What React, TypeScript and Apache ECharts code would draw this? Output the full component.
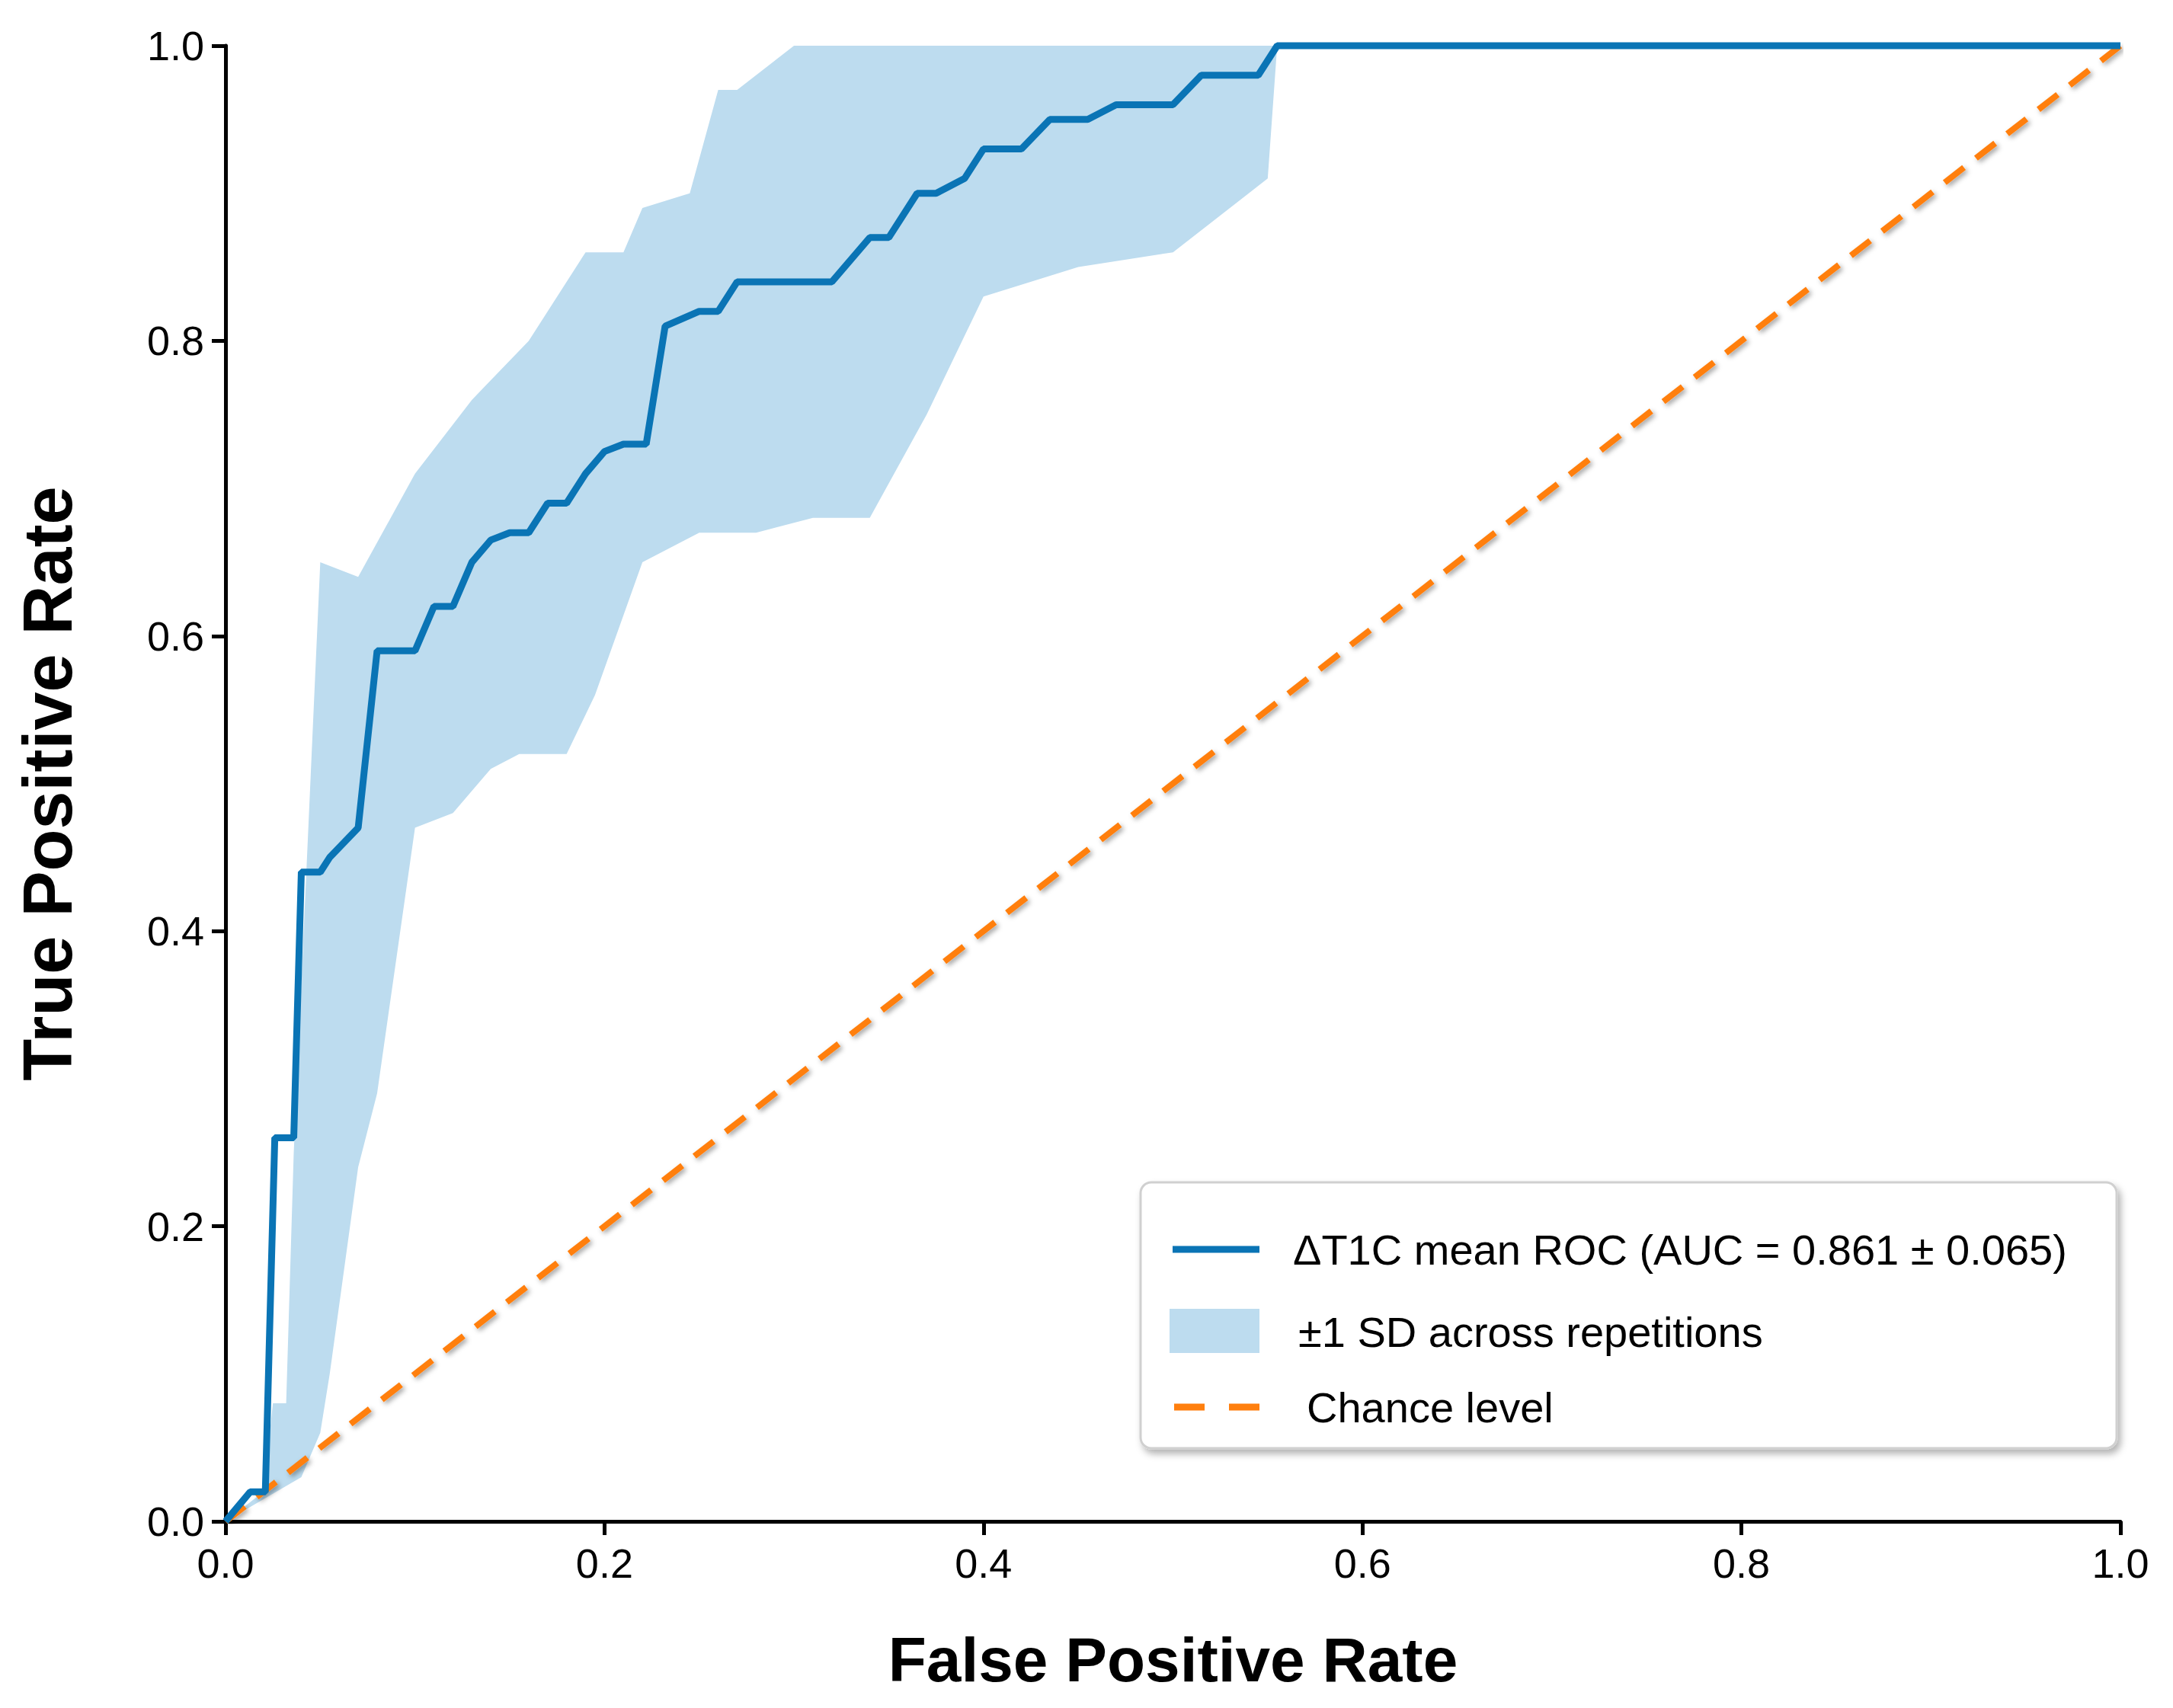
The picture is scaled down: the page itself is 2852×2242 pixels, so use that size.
import React, { useEffect, useRef } from "react";
import * as echarts from "echarts";

// mean ROC curve [fpr, tpr]
const meanRoc: number[][] = [
  [0, 0], [0.013, 0.02], [0.021, 0.02], [0.026, 0.26], [0.036, 0.26], [0.04, 0.44],
  [0.05, 0.44], [0.055, 0.45], [0.07, 0.47], [0.08, 0.59], [0.1, 0.59], [0.11, 0.62],
  [0.12, 0.62], [0.13, 0.65], [0.14, 0.665], [0.15, 0.67], [0.16, 0.67], [0.17, 0.69],
  [0.18, 0.69], [0.19, 0.71], [0.2, 0.725], [0.21, 0.73], [0.222, 0.73], [0.232, 0.81],
  [0.25, 0.82], [0.26, 0.82], [0.27, 0.84], [0.32, 0.84], [0.34, 0.87], [0.35, 0.87],
  [0.365, 0.9], [0.375, 0.9], [0.39, 0.91], [0.4, 0.93], [0.42, 0.93], [0.435, 0.95],
  [0.455, 0.95], [0.47, 0.96], [0.5, 0.96], [0.515, 0.98], [0.545, 0.98], [0.555, 1.0],
  [1, 1],
];

// ±1 SD band, upper and lower bounds
const bandUpper: number[][] = [
  [0, 0], [0.02, 0.02], [0.025, 0.08], [0.032, 0.08], [0.036, 0.25], [0.05, 0.65],
  [0.07, 0.64], [0.1, 0.71], [0.13, 0.76], [0.16, 0.8], [0.19, 0.86], [0.21, 0.86],
  [0.22, 0.89], [0.245, 0.9], [0.26, 0.97], [0.27, 0.97], [0.3, 1.0], [0.555, 1.0],
];
const bandLower: number[][] = [
  [0, 0], [0.04, 0.03], [0.05, 0.06], [0.055, 0.1], [0.07, 0.24], [0.08, 0.29],
  [0.1, 0.47], [0.12, 0.48], [0.14, 0.51], [0.155, 0.52], [0.18, 0.52], [0.195, 0.56],
  [0.22, 0.65], [0.25, 0.67], [0.28, 0.67], [0.31, 0.68], [0.34, 0.68], [0.37, 0.75],
  [0.4, 0.83], [0.45, 0.85], [0.5, 0.86], [0.55, 0.91], [0.555, 1.0],
];

const chance: number[][] = [[0, 0], [1, 1]];

const legendLabels = [
  "ΔT1C mean ROC (AUC = 0.861 ± 0.065)",
  "±1 SD across repetitions",
  "Chance level",
];

const BLUE = "#0a74b5";
const BAND = "#bddcef";
const ORANGE = "#ff7f0e";
const FONT = "Liberation Sans, Arial, sans-serif";

export default function App() {
  const ref = useRef<HTMLDivElement>(null);

  useEffect(() => {
    const chart = echarts.init(ref.current, null, { renderer: "svg" });
    const bandPoly = [...bandUpper, ...bandLower.slice().reverse()];
    const lx = 1497, ly = 1552;
    const tickLabel = {
      fontSize: 54, color: "#000", margin: 28, fontFamily: FONT,
      formatter: (v: number) => v.toFixed(1),
    };
    chart.setOption({
      animation: false,
      backgroundColor: "#fff",
      grid: { left: 296, top: 60, width: 2487, height: 1937 },
      xAxis: {
        type: "value", min: 0, max: 1, interval: 0.2,
        name: "False Positive Rate", nameLocation: "middle", nameGap: 140,
        nameTextStyle: { fontSize: 82, fontWeight: "bold", color: "#000", fontFamily: FONT },
        axisLine: { lineStyle: { color: "#000", width: 5 } },
        axisTick: { length: 18, lineStyle: { color: "#000", width: 5 } },
        axisLabel: tickLabel,
        splitLine: { show: false },
      },
      yAxis: {
        type: "value", min: 0, max: 1, interval: 0.2,
        name: "True Positive Rate", nameLocation: "middle", nameGap: 188,
        nameTextStyle: { fontSize: 90, fontWeight: "bold", color: "#000", fontFamily: FONT },
        axisLine: { show: true, lineStyle: { color: "#000", width: 5 } },
        axisTick: { show: true, length: 18, lineStyle: { color: "#000", width: 5 } },
        axisLabel: tickLabel,
        splitLine: { show: false },
      },
      series: [
        {
          type: "custom",
          data: [0],
          clip: true,
          renderItem: (_p: any, api: any) => ({
            type: "polygon",
            shape: { points: bandPoly.map((p) => api.coord(p)) },
            style: { fill: BAND },
          }),
          z: 1,
        },
        {
          type: "line", data: chance, symbol: "none", z: 2,
          lineStyle: { color: ORANGE, width: 8, type: [32, 20], shadowColor: "rgba(0,0,0,0.35)", shadowBlur: 6, shadowOffsetX: 3, shadowOffsetY: 3 },
        },
        {
          type: "line", data: meanRoc, symbol: "none", z: 3, clip: false,
          lineStyle: { color: BLUE, width: 9 },
        },
      ],
      graphic: [
        {
          type: "rect", x: lx, y: ly, z: 10,
          shape: { width: 1281, height: 349, r: 14 },
          style: { fill: "#fff", stroke: "#d0d0d0", lineWidth: 3, shadowColor: "rgba(0,0,0,0.3)", shadowBlur: 10, shadowOffsetX: 4, shadowOffsetY: 6 },
        },
        { type: "line", z: 11, shape: { x1: lx + 42, y1: ly + 88, x2: lx + 156, y2: ly + 88 }, style: { stroke: BLUE, lineWidth: 9 } },
        { type: "rect", z: 11, shape: { x: lx + 38, y: ly + 166, width: 118, height: 58 }, style: { fill: BAND } },
        { type: "line", z: 11, shape: { x1: lx + 44, y1: ly + 295, x2: lx + 156, y2: ly + 295 }, style: { stroke: ORANGE, lineWidth: 9, lineDash: [40, 32] } },
        ...legendLabels.map((t, i) => ({
          type: "text", z: 11,
          x: lx + [200, 207, 218][i], y: ly + [88, 196, 295][i],
          style: { text: t, fontSize: 56, fill: "#000", fontFamily: FONT, verticalAlign: "middle" },
        })),
      ],
    });
    return () => chart.dispose();
  }, []);

  return <div ref={ref} style={{ position: "fixed", left: 0, top: 0, width: 2852, height: 2242 }} />;
}
